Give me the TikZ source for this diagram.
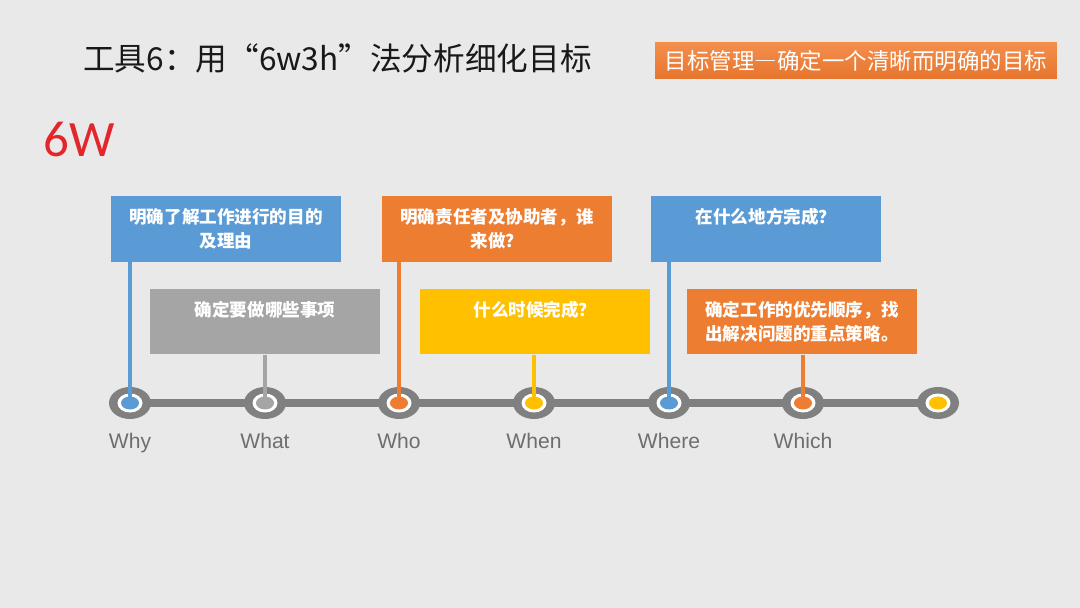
\documentclass[tikz,border=0pt]{standalone}
\usepackage{fontspec}
\newfontfamily\cjk{Noto Sans CJK SC}
\newfontfamily\latinfnt{Liberation Sans}
\newfontfamily\bigfnt{Carlito}
\definecolor{bg}{HTML}{E9E9E9}
\definecolor{cblue}{HTML}{5B9BD5}
\definecolor{cgray}{HTML}{A5A5A5}
\definecolor{corange}{HTML}{ED7D31}
\definecolor{cyellow}{HTML}{FFC000}
\definecolor{tline}{HTML}{808080}
\definecolor{lblgray}{HTML}{6E6E6E}
\definecolor{cred}{HTML}{E3262B}
\definecolor{tagorange}{HTML}{F27B2F}
\begin{document}
\begin{tikzpicture}[x=0.02cm,y=-0.02cm,
  card/.style={draw=none,minimum width=4.6cm,minimum height=1.32cm,inner sep=0pt},
  cardtext/.style={anchor=north,text=white,align=center,inner sep=0pt,
    font=\cjk\bfseries\fontsize{10pt}{13.6pt}\selectfont},
  conn/.style={line width=2.8pt},
  lbl/.style={anchor=base,text=lblgray,font=\latinfnt\fontsize{12pt}{14pt}\selectfont,inner sep=0pt}]
\useasboundingbox (0,0) rectangle (1080,608);
\fill[bg] (0,0) rectangle (1080,608);
% title
\node[anchor=west,inner sep=0pt,text=black!90,font=\cjk\fontsize{18pt}{20pt}\selectfont] (title) at (83,58) {工具6：用“6w3h”法分析细化目标};
\node[top color=tagorange!85!white,bottom color=tagorange!95!black,minimum width=8.04cm,minimum height=0.74cm,inner sep=0pt,text=white,
  font=\cjk\fontsize{12.8pt}{14pt}\selectfont] (tag) at (856,60.5) {目标管理{\addfontfeatures{RawFeature=+fwid}—}确定一个清晰而明确的目标};
\node[anchor=west,inner sep=0pt,text=cred,font=\bigfnt\fontsize{29pt}{32pt}\selectfont] (six) at (43,139) {6W};
% cards
\node[card,fill=cblue] (why) at (226,229) {};
\node[card,fill=cgray] (what) at (265,321.5) {};
\node[card,fill=corange] (who) at (497,229) {};
\node[card,fill=cyellow] (when) at (535,321.5) {};
\node[card,fill=cblue] (where) at (766,229) {};
\node[card,fill=corange] (which) at (802,321.5) {};
\node[cardtext] (whyT) at (226,208) {明确了解工作进行的目的\\及理由};
\node[cardtext] (whatT) at (265,301) {确定要做哪些事项};
\node[cardtext] (whoT) at (497,208) {明确责任者及协助者，谁\\来做？};
\node[cardtext] (whenT) at (535,301) {什么时候完成？};
\node[cardtext] (whereT) at (766,208) {在什么地方完成？};
\node[cardtext] (whichT) at (802,301) {确定工作的优先顺序，找\\出解决问题的重点策略。};
% timeline
\coordinate (c1) at (130,403);
\coordinate (c2) at (265,403);
\coordinate (c3) at (399,403);
\coordinate (c4) at (534,403);
\coordinate (c5) at (669,403);
\coordinate (c6) at (803,403);
\coordinate (c7) at (938,403);
\draw[tline,line width=4pt] (c1) -- (c7);
\foreach \c/\col in {c1/cblue,c2/cgray,c3/corange,c4/cyellow,c5/cblue,c6/corange,c7/cyellow}{
  \fill[tline] (\c) ellipse [x radius=21,y radius=16];
  \fill[white] (\c) ellipse [x radius=12.5,y radius=9.5];
  \fill[\col] (\c) ellipse [x radius=9,y radius=6.5];
}
% connectors
\draw[conn,cblue] (why.south -| c1) -- (c1);
\draw[conn,cgray] (what.south -| c2) -- (c2);
\draw[conn,corange] (who.south -| c3) -- (c3);
\draw[conn,cyellow] (when.south -| c4) -- (c4);
\draw[conn,cblue] (where.south -| c5) -- (c5);
\draw[conn,corange] (which.south -| c6) -- (c6);
% labels
\node[lbl] (l1) at (130,448) {Why};
\node[lbl] (l2) at (265,448) {What};
\node[lbl] (l3) at (399,448) {Who};
\node[lbl] (l4) at (534,448) {When};
\node[lbl] (l5) at (669,448) {Where};
\node[lbl] (l6) at (803,448) {Which};
\end{tikzpicture}
\end{document}
